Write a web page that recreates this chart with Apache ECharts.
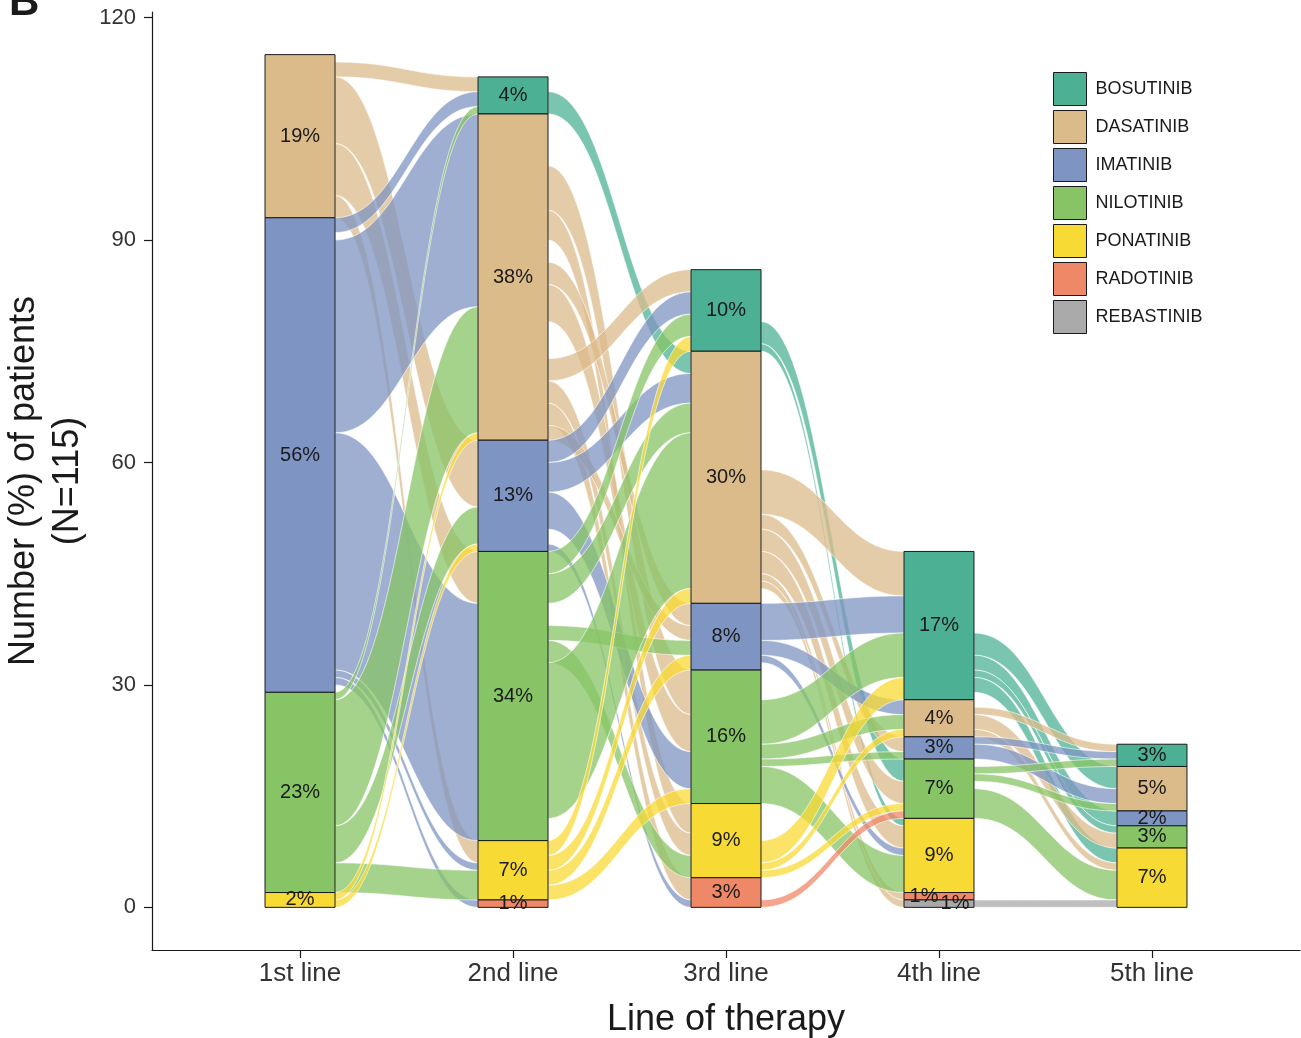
<!DOCTYPE html>
<html>
<head>
<meta charset="utf-8">
<script src="https://cdn.jsdelivr.net/npm/echarts@6/dist/echarts.min.js"></script>
<style>
  html, body { margin: 0; padding: 0; background: #fff; }
  #chart { width: 1301px; height: 1038px; }
</style>
</head>
<body>
<div id="chart"></div>
<script>
// drugs, top to bottom inside every bar
const drugs = ['BOSUTINIB', 'DASATINIB', 'IMATINIB', 'NILOTINIB', 'PONATINIB', 'RADOTINIB', 'REBASTINIB'];
const short = ['BOS', 'DAS', 'IMA', 'NIL', 'PON', 'RAD', 'REB'];
const colors = ['#4cb194', '#dcbb8b', '#7e94c2', '#87c466', '#f8da34', '#ef8867', '#aaaaaa'];
const lines = ['1st line', '2nd line', '3rd line', '4th line', '5th line'];
const totalPatients = 115;
const yTicks = [0, 30, 60, 90, 120];

// patients on each drug at each line (same order as drugs)
const line1 = [0, 22, 64, 27, 2, 0, 0];
const line2 = [5, 44, 15, 39, 8, 1, 0];
const line3 = [11, 34, 9, 18, 10, 4, 0];
const line4 = [20, 5, 3, 8, 10, 1, 1];
const line5 = [3, 6, 2, 3, 8, 0, 0];

// switches between lines: [from, to, patients], to = null -> no next line
// rows are listed top to bottom as they leave each bar
const flow12 = [
  ['DAS', null, 1], ['DAS', 'BOS', 2], ['DAS', 'IMA', 9], ['DAS', 'NIL', 7], ['DAS', 'PON', 3],
  ['IMA', 'BOS', 2], ['IMA', null, 1], ['IMA', 'DAS', 26], ['IMA', 'NIL', 32], ['IMA', 'PON', 1], ['IMA', 'RAD', 1], ['IMA', null, 1],
  ['NIL', 'BOS', 1], ['NIL', 'DAS', 17], ['NIL', 'IMA', 5], ['NIL', 'PON', 4],
  ['PON', 'DAS', 1], ['PON', 'IMA', 1]
];
const flow23 = [
  ['BOS', null, 2], ['BOS', 'DAS', 3],
  ['DAS', null, 7], ['DAS', 'NIL', 6], ['DAS', 'PON', 4], ['DAS', null, 3], ['DAS', 'IMA', 3], ['DAS', 'NIL', 5],
  ['DAS', null, 5], ['DAS', 'BOS', 3], ['DAS', 'PON', 3], ['DAS', 'RAD', 3], ['DAS', 'IMA', 2],
  ['IMA', 'BOS', 3], ['IMA', 'DAS', 4], ['IMA', 'NIL', 5], ['IMA', null, 2], ['IMA', 'RAD', 1],
  ['NIL', 'BOS', 3], ['NIL', 'DAS', 4], ['NIL', null, 3], ['NIL', 'IMA', 2], ['NIL', 'PON', 3], ['NIL', 'DAS', 21], ['NIL', null, 3],
  ['PON', 'BOS', 2], ['PON', 'DAS', 2], ['PON', 'IMA', 2], ['PON', 'NIL', 2],
  ['RAD', null, 1]
];
const flow34 = [
  ['BOS', null, 7], ['BOS', 'NIL', 3], ['BOS', 'PON', 1],
  ['DAS', null, 16], ['DAS', 'BOS', 6], ['DAS', 'IMA', 2], ['DAS', 'NIL', 3], ['DAS', 'PON', 3], ['DAS', 'RAD', 1], ['DAS', 'REB', 1], ['DAS', null, 2],
  ['IMA', 'BOS', 5], ['IMA', 'DAS', 2], ['IMA', 'PON', 1], ['IMA', null, 1],
  ['NIL', null, 4], ['NIL', 'BOS', 6], ['NIL', 'DAS', 2], ['NIL', 'IMA', 1], ['NIL', 'PON', 5],
  ['PON', null, 5], ['PON', 'BOS', 3], ['PON', 'DAS', 1], ['PON', 'NIL', 1],
  ['RAD', null, 3], ['RAD', 'NIL', 1]
];
const flow45 = [
  ['BOS', null, 11], ['BOS', 'DAS', 3], ['BOS', 'IMA', 2], ['BOS', 'NIL', 1], ['BOS', 'PON', 2], ['BOS', null, 1],
  ['DAS', null, 1], ['DAS', 'BOS', 1], ['DAS', 'NIL', 2], ['DAS', 'PON', 1],
  ['IMA', 'BOS', 1], ['IMA', 'DAS', 2],
  ['NIL', null, 1], ['NIL', 'BOS', 1], ['NIL', 'DAS', 1], ['NIL', null, 1], ['NIL', 'PON', 4],
  ['PON', null, 10], ['RAD', null, 1], ['REB', 'PON', 1]
];

const lineCounts = [line1, line2, line3, line4, line5];
const flowSets = [flow12, flow23, flow34, flow45];
const barHalf = 35;
const font = 'Liberation Sans, Arial, sans-serif';

// top edge of each drug segment in a bar (BOS stacked on top)
function stackTops(counts) {
  let y = counts.reduce((a, b) => a + b, 0);
  return counts.map(c => { const t = y; y -= c; return t; });
}
const lineTops = lineCounts.map(stackTops);

const flowData = [];
flowSets.forEach((rows, xi) => {
  const lc = lineTops[xi].slice();
  const rc = lineTops[xi + 1].slice();
  const placed = rows.map(r => {
    const a = short.indexOf(r[0]);
    const b = r[1] ? short.indexOf(r[1]) : -1;
    const s0 = lc[a];
    lc[a] -= r[2];
    return { a, b, n: r[2], s0 };
  });
  // arriving flows are stacked by the drug they come from
  placed.map((p, i) => i)
    .filter(i => placed[i].b >= 0)
    .sort((i, j) => placed[i].a - placed[j].a || i - j)
    .forEach(i => {
      const p = placed[i];
      const t0 = rc[p.b];
      rc[p.b] -= p.n;
      flowData.push([xi, p.s0, p.s0 - p.n, xi + 1, t0, t0 - p.n, p.a]);
    });
});

function bez(p0, p1, p2, p3, t) {
  const u = 1 - t;
  return u * u * u * p0 + 3 * u * u * t * p1 + 3 * u * t * t * p2 + t * t * t * p3;
}

function renderFlow(params, api) {
  const x0 = api.value(0), x1 = api.value(3);
  const a = api.coord([x0, api.value(1)]), b = api.coord([x0, api.value(2)]);
  const c = api.coord([x1, api.value(4)]), d = api.coord([x1, api.value(5)]);
  const xa = a[0] + barHalf, xb = c[0] - barHalf;
  const k = (xb - xa) * 0.45;
  const pts = [];
  const N = 48;
  for (let i = 0; i <= N; i++) {
    const t = i / N;
    pts.push([bez(xa, xa + k, xb - k, xb, t), bez(a[1], a[1], c[1], c[1], t)]);
  }
  for (let i = N; i >= 0; i--) {
    const t = i / N;
    pts.push([bez(xa, xa + k, xb - k, xb, t), bez(b[1], b[1], d[1], d[1], t)]);
  }
  return {
    type: 'polygon',
    shape: { points: pts },
    style: { fill: colors[api.value(6)], stroke: '#ffffff', lineWidth: 0.8, opacity: 0.75 }
  };
}

// one series per drug: its segment in each bar
const barSeries = drugs.map((name, d) => ({
  name: name,
  type: 'custom',
  z: 3,
  silent: true,
  itemStyle: { color: colors[d] },
  encode: { x: 0, y: [1, 2] },
  data: lineCounts.map((c, xi) => [xi, lineTops[xi][d], lineTops[xi][d] - c[d], c[d]]).filter(r => r[3] > 0),
  renderItem: (params, api) => {
    const p0 = api.coord([api.value(0), api.value(1)]);
    const p1 = api.coord([api.value(0), api.value(2)]);
    return {
      type: 'rect',
      shape: { x: p0[0] - barHalf, y: p0[1], width: barHalf * 2, height: p1[1] - p0[1] },
      style: { fill: colors[d], stroke: '#1a1a1a', lineWidth: 1 }
    };
  }
}));

// small labels at the bottom of the 4th bar are pushed sideways
const labelShift = { '3-5': -15, '3-6': 16 };
const labelData = [];
lineCounts.forEach((c, xi) => c.forEach((n, d) => {
  if (n > 0) labelData.push([xi, lineTops[xi][d] - n / 2, n, labelShift[xi + '-' + d] || 0]);
}));

const labelSeries = {
  type: 'custom',
  name: 'labels',
  z: 4,
  silent: true,
  encode: { x: 0, y: 1 },
  data: labelData,
  renderItem: (params, api) => {
    const p = api.coord([api.value(0), api.value(1)]);
    return {
      type: 'text',
      x: p[0] + api.value(3),
      y: p[1],
      style: {
        text: Math.round(api.value(2) / totalPatients * 100) + '%',
        align: 'center', verticalAlign: 'middle',
        fontSize: 20, fontFamily: font, fill: '#1a1a1a'
      }
    };
  }
};

const chart = echarts.init(document.getElementById('chart'));
const option = {
  animation: false,
  backgroundColor: '#ffffff',
  textStyle: { fontFamily: font },
  graphic: [{
    type: 'text',
    left: 9,
    top: -18,
    style: { text: 'B', fontSize: 42, fontWeight: 'bold', fontFamily: font, fill: '#1a1a1a' }
  }],
  grid: { left: 152, right: 1, top: 12, bottom: 88, outerBoundsMode: 'none' },
  legend: {
    orient: 'vertical',
    left: 1053,
    top: 72,
    padding: 0,
    itemWidth: 33,
    itemHeight: 33,
    itemGap: 4,
    icon: 'rect',
    data: drugs,
    itemStyle: { borderColor: '#1a1a1a', borderWidth: 1 },
    textStyle: { fontSize: 18, color: '#1a1a1a', fontFamily: font, padding: [0, 0, 0, 4] }
  },
  xAxis: {
    type: 'value',
    min: -0.695,
    max: 4.695,
    splitLine: { show: false },
    axisLine: { show: true, onZero: false, lineStyle: { color: '#1a1a1a', width: 1.2 } },
    axisTick: { show: true, customValues: [0, 1, 2, 3, 4], length: 8, lineStyle: { color: '#1a1a1a', width: 1.2 } },
    axisLabel: {
      customValues: [0, 1, 2, 3, 4],
      formatter: v => lines[Math.round(v)],
      fontSize: 26, color: '#333', margin: 11, fontFamily: font
    },
    name: 'Line of therapy',
    nameLocation: 'middle',
    nameGap: 52,
    nameTextStyle: { fontSize: 36, color: '#1a1a1a', fontFamily: font }
  },
  yAxis: {
    type: 'value',
    min: -5.75,
    max: 120.75,
    splitLine: { show: false },
    axisLine: { show: true, onZero: false, lineStyle: { color: '#1a1a1a', width: 1.2 } },
    axisTick: { show: true, customValues: yTicks, length: 8, lineStyle: { color: '#1a1a1a', width: 1.2 } },
    axisLabel: { customValues: yTicks, fontSize: 22, color: '#333', margin: 16, fontFamily: font },
    name: 'Number (%) of patients\n(N=115)',
    nameLocation: 'middle',
    nameRotate: 90,
    nameGap: 62,
    nameMoveOverlap: false,
    nameTextStyle: { fontSize: 36, color: '#1a1a1a', fontFamily: font, lineHeight: 44, align: 'center' }
  },
  series: [{
    type: 'custom',
    name: 'flows',
    z: 1,
    silent: true,
    renderItem: renderFlow,
    encode: { x: [0, 3], y: [1, 2, 4, 5] },
    data: flowData
  }].concat(barSeries, [labelSeries])
};
chart.setOption(option);
</script>
</body>
</html>
